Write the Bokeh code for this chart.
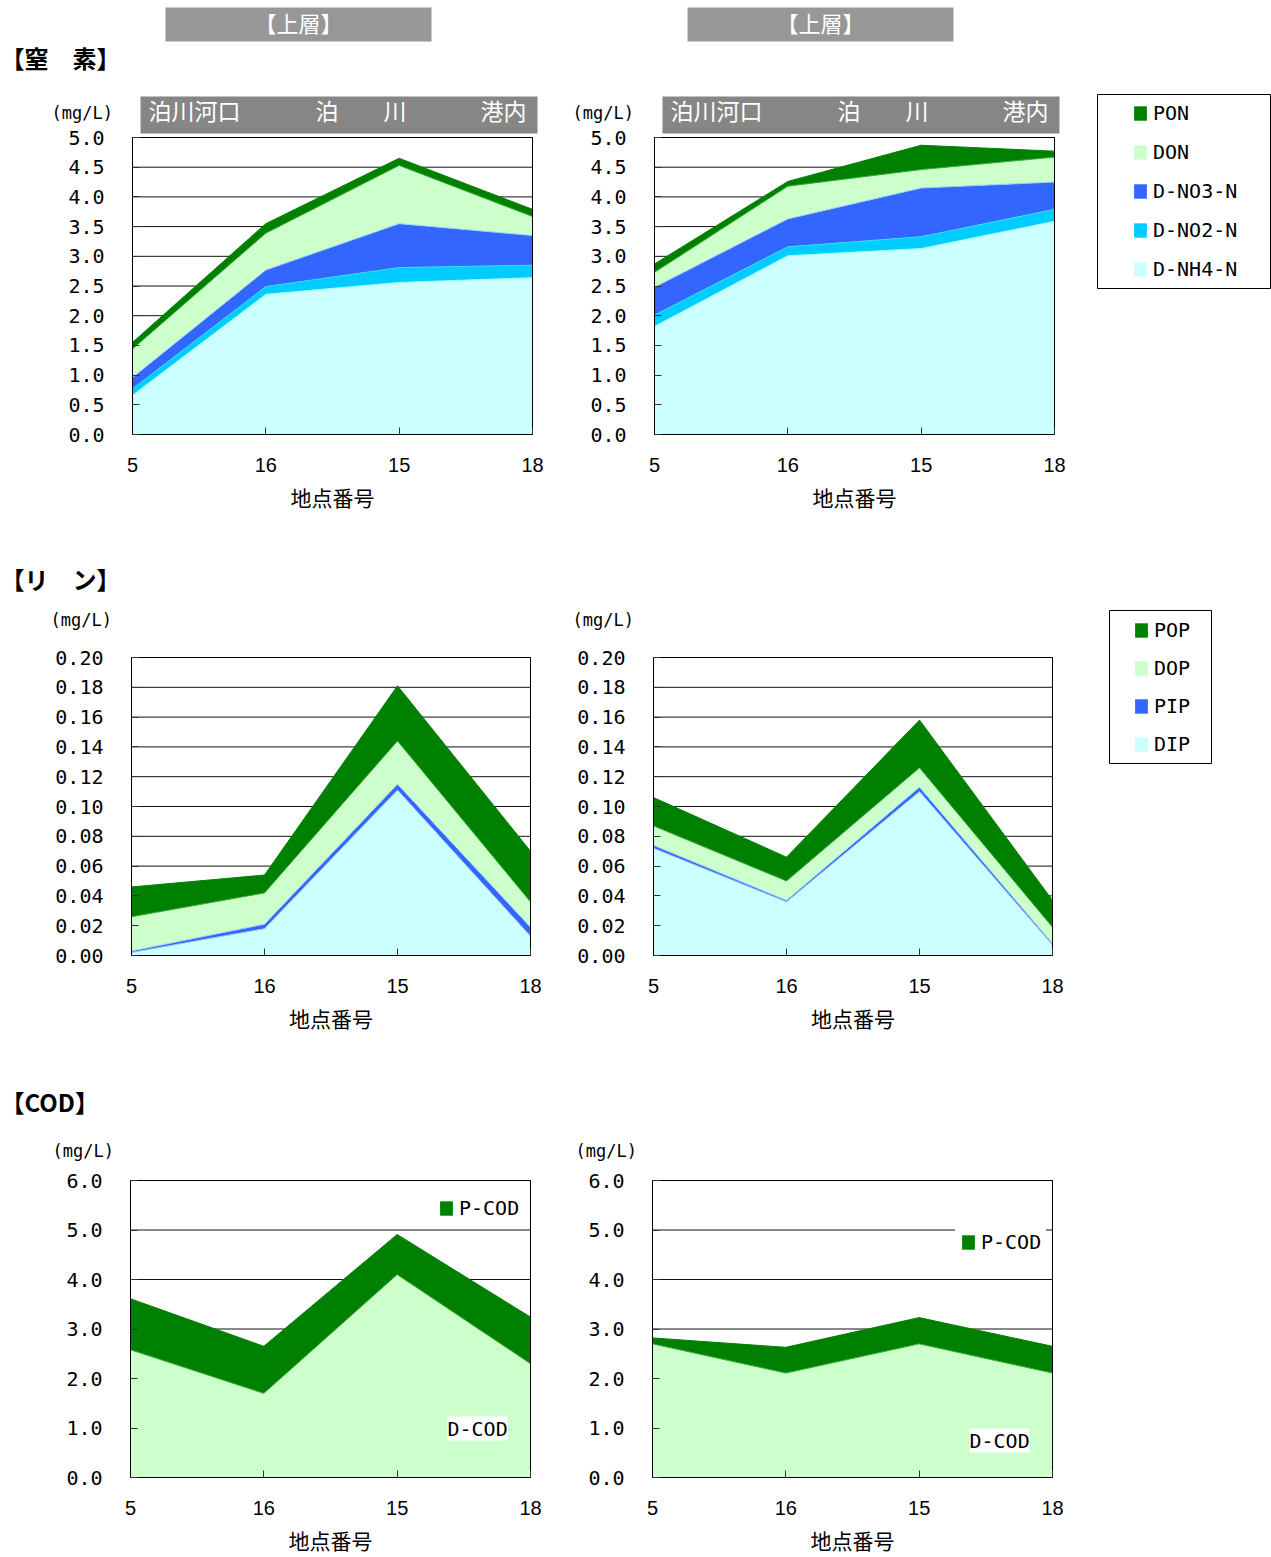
from bokeh.plotting import figure
from bokeh.models import (ColumnDataSource, Range1d, FixedTicker, Label, LinearAxis,
                          Legend, LegendItem, PrintfTickFormatter)
from bokeh.core.properties import value
from bokeh.embed import file_html
from bokeh.resources import INLINE

PAGE_W, PAGE_H = 1271, 1557

# 地点番号
STATIONS = ["5", "16", "15", "18"]

# 窒素 (mg/L) — left panel
n_l_nh4 = [0.66, 2.36, 2.56, 2.64]
n_l_no2 = [0.11, 0.13, 0.25, 0.21]
n_l_no3 = [0.19, 0.28, 0.74, 0.50]
n_l_don = [0.48, 0.62, 0.98, 0.32]
n_l_pon = [0.11, 0.16, 0.12, 0.12]

# 窒素 (mg/L) — right panel
n_r_nh4 = [1.82, 3.01, 3.13, 3.59]
n_r_no2 = [0.19, 0.15, 0.20, 0.20]
n_r_no3 = [0.47, 0.47, 0.82, 0.46]
n_r_don = [0.25, 0.55, 0.31, 0.42]
n_r_pon = [0.14, 0.08, 0.41, 0.10]

# リン (mg/L)
p_l_dip = [0.002, 0.018, 0.111, 0.013]
p_l_pip = [0.001, 0.003, 0.004, 0.006]
p_l_dop = [0.023, 0.021, 0.029, 0.017]
p_l_pop = [0.020, 0.012, 0.037, 0.034]

p_r_dip = [0.072, 0.036, 0.110, 0.007]
p_r_pip = [0.002, 0.001, 0.003, 0.001]
p_r_dop = [0.013, 0.013, 0.013, 0.011]
p_r_pop = [0.019, 0.016, 0.032, 0.018]

# COD (mg/L)
c_l_d = [2.58, 1.70, 4.10, 2.30]
c_l_p = [1.03, 0.95, 0.81, 0.94]
c_r_d = [2.70, 2.11, 2.70, 2.11]
c_r_p = [0.12, 0.52, 0.53, 0.54]

N_NAMES = ["D-NH4-N", "D-NO2-N", "D-NO3-N", "DON", "PON"]
P_NAMES = ["DIP", "PIP", "DOP", "POP"]
C_NAMES = ["D-COD", "P-COD"]

# headings and banners
SECTION_TITLES = ["【窒　素】", "【リ　ン】", "【COD】"]
LAYER_TITLE = "【上層】"
GROUP_LABELS = ["泊川河口", "泊", "川", "港内"]

MONO = "DejaVu Sans Mono"
SANS = "Liberation Sans"
JP = "Noto Sans CJK JP"

GREEN = "#008000"
LGREEN = "#CCFFCC"
BLUE = "#3366FF"
CYAN = "#00CCFF"
PALE = "#CCFFFF"

N_COLORS = [PALE, CYAN, BLUE, LGREEN, GREEN]
N_EDGES = ["#99FFFF", "#33DDFF", "#99CCFF", "#33AA33", GREEN]
P_COLORS = [PALE, BLUE, LGREEN, GREEN]
P_EDGES = ["#99CCFF", "#99CCFF", "#33AA33", GREEN]
C_COLORS = [LGREEN, GREEN]
C_EDGES = ["#33AA33", GREEN]

# One page-sized canvas; the default ranges are page pixels (y grows downward).
p = figure(output_backend="svg", toolbar_location=None, width=PAGE_W, height=PAGE_H,
           x_range=Range1d(0, PAGE_W), y_range=Range1d(PAGE_H, 0), min_border=0,
           x_axis_type=None, y_axis_type=None)
p.outline_line_color = None
p.background_fill_color = "white"
p.border_fill_color = "white"

# panel boxes on the page: key -> (left, top, width, height, ymax, step, format)
PANELS = {
    "nl": (132, 137, 400, 297, 5.0, 0.5, "%.1f"),
    "nr": (654, 137, 400, 297, 5.0, 0.5, "%.1f"),
    "pl": (131, 657, 399, 298, 0.2, 0.02, "%.2f"),
    "pr": (653, 657, 399, 298, 0.2, 0.02, "%.2f"),
    "cl": (130, 1180, 400, 297, 6.0, 1.0, "%.1f"),
    "cr": (652, 1180, 400, 297, 6.0, 1.0, "%.1f"),
}

# each panel gets its own data ranges, scaled so that its box lands at the given spot
xr, yr = {}, {}
for key, (L, T, W, H, ymax, step, fmt) in PANELS.items():
    xr["x_" + key] = Range1d(-L * 3 / W, (PAGE_W - L) * 3 / W)
    yr["y_" + key] = Range1d(-(PAGE_H - T - H) * ymax / H, (T + H) * ymax / H)
p.extra_x_ranges = xr
p.extra_y_ranges = yr


def panel(key, names, cols, colors, edges):
    L, T, W, H, ymax, step, fmt = PANELS[key]
    rx, ry = "x_" + key, "y_" + key
    yticks = [i * step for i in range(int(round(ymax / step)) + 1)]
    # horizontal grid lines at the y ticks
    p.segment(x0=[0] * len(yticks), x1=[3] * len(yticks), y0=yticks, y1=yticks,
              line_color="#111111", line_width=1, x_range_name=rx, y_range_name=ry)
    data = {"x": [0, 1, 2, 3]}
    data.update({n: c for n, c in zip(names, cols)})
    src = ColumnDataSource(data)
    areas = p.varea_stack(stackers=names, x="x", color=colors, source=src,
                          x_range_name=rx, y_range_name=ry)
    p.vline_stack(stackers=names, x="x", color=edges, line_width=1, source=src,
                  x_range_name=rx, y_range_name=ry)
    # plot-area border
    p.quad(left=[0], right=[3], bottom=[0], top=[ymax], fill_color=None,
           line_color="black", line_width=1, x_range_name=rx, y_range_name=ry)

    yax = LinearAxis(x_range_name=rx, y_range_name=ry, fixed_location=0, bounds=(0, ymax),
                     ticker=FixedTicker(ticks=yticks), formatter=PrintfTickFormatter(format=fmt))
    xax = LinearAxis(x_range_name=rx, y_range_name=ry, fixed_location=0, bounds=(0, 3),
                     ticker=FixedTicker(ticks=[0, 1, 2, 3]),
                     major_label_overrides={i: s for i, s in enumerate(STATIONS)})
    for ax in (xax, yax):
        ax.axis_line_color = "black"
        ax.major_tick_line_color = "#333333"
        ax.major_tick_in = 7
        ax.major_tick_out = 0
        ax.minor_tick_line_color = None
        ax.major_label_text_color = "black"
    yax.major_label_text_font = MONO
    yax.major_label_text_font_size = "20px"
    yax.major_label_standoff = 28
    xax.major_label_text_font = SANS
    xax.major_label_text_font_size = "20px"
    xax.major_label_standoff = 23
    xax.axis_label = "地点番号"
    xax.axis_label_text_font = JP
    xax.axis_label_text_font_size = "21px"
    xax.axis_label_text_font_style = "normal"
    xax.axis_label_text_color = "black"
    xax.axis_label_standoff = 7
    p.add_layout(yax, "left")
    p.add_layout(xax, "below")
    return dict(zip(names, areas))


def legend(items, x, y, spacing, padding=0, bg=None):
    leg = Legend(items=items, location=(x, y), orientation="vertical",
                 label_text_font=MONO, label_text_font_size="20px", label_text_color="black",
                 glyph_width=16, glyph_height=18, label_height=20, spacing=spacing,
                 padding=padding, label_standoff=5, margin=0, border_line_alpha=0,
                 background_fill_color=bg if bg else "white",
                 background_fill_alpha=1 if bg else 0)
    p.add_layout(leg, "center")


# ---- banners, headings, units ----
p.quad(left=[165, 687], right=[431, 953], top=[7, 7], bottom=[41, 41],
       fill_color="#979797", line_color=None)
p.text(x=[298, 820], y=[21, 21], text=[LAYER_TITLE, LAYER_TITLE],
       text_font=value(JP), text_font_size="22px", text_color="white",
       text_align="center", text_baseline="middle")

p.quad(left=[140, 662], right=[537, 1059], top=[96, 96], bottom=[133, 133],
       fill_color="#868686", line_color=None)
gx = [148, 315, 383, 480]
p.text(x=gx + [v + 522 for v in gx], y=[109] * 8, text=GROUP_LABELS * 2,
       text_font=value(JP), text_font_size="23px", text_color="white",
       text_align="left", text_baseline="middle")

p.text(x=[0, 0, 0], y=[57, 578, 1101], text=SECTION_TITLES,
       text_font=value(JP), text_font_size="24px", text_font_style="bold",
       text_color="black", text_align="left", text_baseline="middle")

p.text(x=[51, 572, 50, 572, 52, 575], y=[112, 112, 619, 619, 1150, 1150],
       text=["(mg/L)"] * 6, text_font=value(MONO), text_font_size="17px",
       text_color="black", text_align="left", text_baseline="middle")

# legend frames
p.quad(left=[1097, 1109], right=[1270, 1211], top=[94, 610], bottom=[288, 763],
       fill_color=None, line_color="black", line_width=1)

# ---- 窒素 ----
panel("nl", N_NAMES, [n_l_nh4, n_l_no2, n_l_no3, n_l_don, n_l_pon], N_COLORS, N_EDGES)
nr = panel("nr", N_NAMES, [n_r_nh4, n_r_no2, n_r_no3, n_r_don, n_r_pon], N_COLORS, N_EDGES)
legend([LegendItem(label=n, renderers=[nr[n]]) for n in reversed(N_NAMES)],
       1132, PAGE_H - 281, 15)

# ---- リン ----
panel("pl", P_NAMES, [p_l_dip, p_l_pip, p_l_dop, p_l_pop], P_COLORS, P_EDGES)
pr = panel("pr", P_NAMES, [p_r_dip, p_r_pip, p_r_dop, p_r_pop], P_COLORS, P_EDGES)
legend([LegendItem(label=n, renderers=[pr[n]]) for n in reversed(P_NAMES)],
       1133, PAGE_H - 756, 14)

# ---- COD ----
cl = panel("cl", C_NAMES, [c_l_d, c_l_p], C_COLORS, C_EDGES)
cr = panel("cr", C_NAMES, [c_r_d, c_r_p], C_COLORS, C_EDGES)
legend([LegendItem(label="P-COD", renderers=[cl["P-COD"]])], 433, PAGE_H - 1225, 0, 5, "white")
legend([LegendItem(label="P-COD", renderers=[cr["P-COD"]])], 955, PAGE_H - 1259, 0, 5, "white")
for x, y in [(447, 1428), (969, 1440)]:
    p.add_layout(Label(x=x, y=PAGE_H - y, x_units="screen", y_units="screen", text="D-COD",
                       text_font=MONO, text_font_size="20px", text_color="black",
                       text_baseline="middle", background_fill_color="white"))

with open("out.html", "w") as f:
    f.write(file_html(p, INLINE))
